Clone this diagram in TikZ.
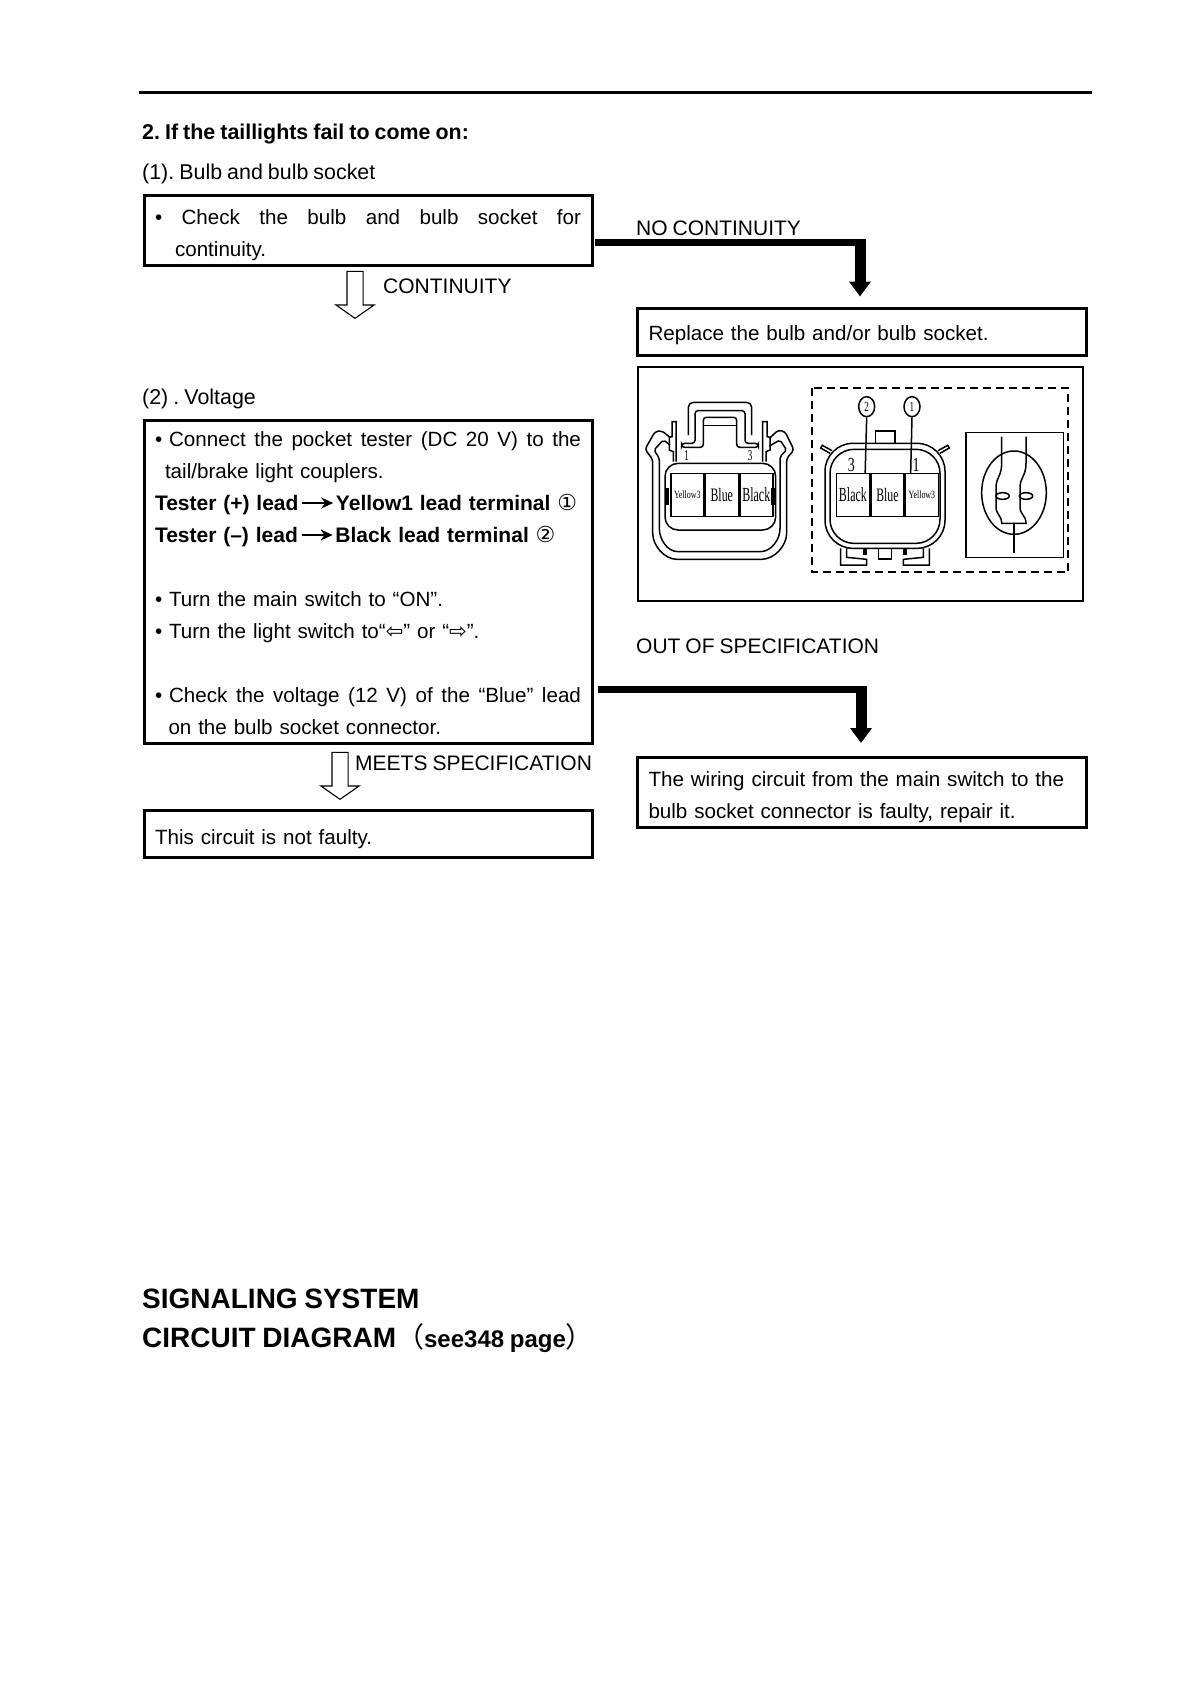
\documentclass[tikz,border=0pt]{standalone}
\usepackage{fontspec}
\usepackage{graphicx}
\setmainfont[WordSpace=0.85]{Liberation Sans}
\newfontfamily\symfont{DejaVu Sans}
\newfontfamily\cjkfont{Noto Sans CJK SC}
\newfontfamily\pinfont{Liberation Serif}
\usetikzlibrary{arrows.meta,positioning,shapes.geometric,shapes.arrows,calc}
\frenchspacing
\newcommand{\fullline}[1]{\leavevmode\hbox to 426pt{#1}}
\newcommand{\leadarrow}{\kern3pt\tikz[baseline=-7pt]\draw[line width=1.5pt,-{Stealth[length=12pt,width=11pt]}] (0pt,0pt) -- (31pt,0pt);\kern2pt}
\newcommand{\leadline}[1]{\leavevmode\hbox{\fontsize{21}{32}\selectfont\bfseries #1}}
\newcommand{\circnum}[1]{{\mdseries\fontsize{22}{22}\symfont #1}}
\newcommand{\lampsign}[1]{{\fontsize{21}{21}\symfont #1}}
\newcommand{\pinlabel}[3]{\scalebox{#1}[1]{\fontsize{#2}{#2}\pinfont #3}}

\begin{document}
\begin{tikzpicture}[
    x=1pt, y=-1pt,
    >=Stealth,
    every node/.style={font=\fontsize{21}{32}\selectfont},
    box/.style={draw, line width=3pt, inner sep=0pt, minimum width=448pt,
                font=\fontsize{20.6}{32}\selectfont,
                text width=426pt, align=left, text height=19pt},
    plain/.style={anchor=base west, inner sep=0pt},
    title/.style={plain, font=\fontsize{21.4}{32}\selectfont},
    hollowarrow/.style={draw, line width=1.1pt, single arrow, shape border rotate=270,
                anchor=tip, inner sep=7.5pt, minimum height=47pt,
                single arrow head extend=11pt, single arrow tip angle=110},
    flowbar/.style={line width=7pt},
    flowdown/.style={line width=11pt, -{Triangle[width=21pt, length=15pt]}},
    pinline/.style={line width=1.5pt},
    pincell/.style={draw, line width=1.5pt, inner sep=0pt, minimum width=33pt, minimum height=43pt},
    pinnum/.style={draw, line width=1.5pt, ellipse, inner sep=0pt, minimum width=16pt, minimum height=20pt},
  ]
  \useasboundingbox (0,0) rectangle (1190,1684);

  % Top rule and headings
  \coordinate (ruleleft) at (139,92);
  \coordinate (ruleright) at (1092,92);
  \draw[line width=3pt] (ruleleft) -- (ruleright);
  \node[title, font=\fontsize{21.4}{32}\selectfont\bfseries] at (142,139) (heading) {2. If the taillights fail to come on:};
  \node[title] at (142,179) (bulbtitle) {(1). Bulb and bulb socket};
  \node[title] at (142,404) (volttitle) {(2) . Voltage};

  % Left column
  \node[box, minimum height=70pt, text height=21pt, text depth=34pt] at (368,230.5) (bulbcheck)
    {\fullline{• \hfill Check \hfill the \hfill bulb \hfill and \hfill bulb \hfill socket \hfill for}\\
     \hspace*{20pt}continuity.};
  \node[box, minimum height=323pt, text depth=290pt] at (368,581.5) (voltcheck)
    {\fullline{• Connect \hfill the \hfill pocket \hfill tester \hfill (DC \hfill 20 \hfill V) \hfill to \hfill the}\\
     \hspace*{10pt}tail/brake light couplers.\\
     \leadline{Tester (+) lead\leadarrow Yellow1 lead terminal \circnum{①}}\\
     \leadline{Tester (–) lead\leadarrow Black lead terminal \circnum{②}}\\[32pt]
     • Turn the main switch to “ON”.\\
     • Turn the light switch to“\lampsign{⇦}” or “\lampsign{⇨}”.\\[32pt]
     \fullline{• Check \hfill the \hfill voltage \hfill (12 \hfill V) \hfill of \hfill the \hfill “Blue” \hfill lead}\\
     \hspace*{13.5pt}on the bulb socket connector.};
  \node[box, minimum height=47pt, text height=23pt, text depth=2pt] at (368,834) (notfaulty) {This circuit is not faulty.};

  % Right column
  \node[box, minimum width=449pt, minimum height=47pt, text depth=2pt] at (861.5,331.5) (replace) {Replace the bulb and/or bulb socket.};
  \node[box, minimum width=449pt, minimum height=70pt, text height=21pt, text depth=34pt] at (861.5,792.5) (repair)
    {The wiring circuit from the main switch to the\\
     bulb socket connector is faulty, repair it.};

  % Labels on the arrows
  \node[plain] at (636,235) (nocont) {NO CONTINUITY};
  \node[plain] at (383,293) (cont) {CONTINUITY};
  \node[plain] at (636,653) (outspec) {OUT OF SPECIFICATION};
  \node[plain] at (355,770) (meets) {MEETS SPECIFICATION};

  % Arrows
  \node[hollowarrow] at (355,319) (contarrow) {};
  \node[hollowarrow] at (340,800) (meetsarrow) {};
  \coordinate (nocontcorner) at (860,242.5);
  \coordinate (outcorner) at (861,689.5);
  \draw[flowbar] ([yshift=-12pt]bulbcheck.east) ++(1pt,0) -- (nocontcorner);
  \draw[flowdown] ([yshift=3.5pt]nocontcorner) -- ([xshift=-1.5pt,yshift=10pt]replace.north);
  \draw[flowbar] (voltcheck.north east |- outcorner) ++(4pt,0) -- (outcorner);
  \draw[flowdown] ([yshift=3.5pt]outcorner) -- ([xshift=-0.5pt,yshift=13pt]repair.north);

  % Bottom titles
  \node[plain, font=\fontsize{28}{34}\selectfont\bfseries] at (142,1308) (sigtitle) {SIGNALING SYSTEM};
  \node[plain, font=\fontsize{28}{34}\selectfont\bfseries] at (142,1347) (circtitle)
    {CIRCUIT DIAGRAM{\mdseries\cjkfont （}{\fontsize{24}{34}\selectfont see348 page}{\mdseries\cjkfont ）}};

  % Connector picture, in units of a third of a pixel
  \begin{scope}[x=0.33333pt, y=-0.33333pt, xshift=630pt, yshift=-360pt]
    \node[draw, line width=2pt, inner sep=0pt, minimum width=445pt, minimum height=234pt] at (691,373) (pictureframe) {};
    \draw[line width=2pt, dash pattern=on 8pt off 5pt] (545,85) rectangle (1315,637);

    % Left coupler
    \draw[pinline, rounded corners=3pt] (120,232) -- (95,212) -- (75,215) -- (45,268) -- (68,298)
      -- (68,510) to[out=270, in=180] (150,598) -- (385,598) to[out=0, in=270] (470,510)
      -- (470,295) -- (492,270) -- (465,215) -- (445,210) -- (418,235);
    \draw[pinline, rounded corners=2pt] (120,255) -- (100,240) -- (72,270) -- (88,295)
      -- (88,500) to[out=270, in=180] (150,575) -- (385,575) to[out=0, in=270] (450,500)
      -- (450,290) -- (470,270) -- (450,240) -- (418,258);
    \draw[pinline, rounded corners=13pt] (105,310) rectangle (437,510);
    \draw[pinline, rounded corners=5pt] (175,225) -- (175,127) -- (365,127) -- (365,225);
    \draw[pinline, rounded corners=3pt] (155,262) -- (155,250) -- (195,250) -- (195,152)
      -- (345,152) -- (345,250) -- (385,250) -- (385,262) -- (320,262) -- (320,172) -- (220,172) -- (220,262) -- cycle;
    \draw[pinline] (220,240) -- (220,197) -- (320,197) -- (320,240);
    \draw[pinline] (138,305) -- (138,185) -- (126,185) -- (126,230) -- (118,232) -- (118,270) -- (130,275) -- (130,305);
    \draw[pinline] (398,305) -- (398,185) -- (411,185) -- (411,230) -- (420,232) -- (420,270) -- (408,275) -- (408,305);
    \fill (104,385) rectangle (118,435);
    \fill (424,385) rectangle (436,435);
    \node[pincell, anchor=south west] at (120,472) (leftyellow) {\pinlabel{.72}{11}{Yellow3}};
    \node[pincell, right=0pt of leftyellow] (leftblue) {\pinlabel{.62}{19}{Blue}};
    \node[pincell, right=0pt of leftblue] (leftblack) {\pinlabel{.6}{20}{Black}};
    \node[inner sep=0pt] at (170,288) (leftone) {\pinlabel{.6}{15}{1}};
    \node[inner sep=0pt] at (360,287) (leftthree) {\pinlabel{.6}{15}{3}};

    % Right coupler
    \draw[pinline, rounded corners=28pt] (585,250) rectangle (945,565);
    \draw[pinline, rounded corners=24pt] (600,268) rectangle (930,550);
    \draw[pinline] (737,250) -- (737,213) -- (795,213) -- (795,250);
    \draw[pinline] (600,280) -- (572,264) -- (577,256) -- (606,272);
    \draw[pinline] (930,280) -- (958,264) -- (953,256) -- (924,272);
    \draw[pinline] (650,565) -- (650,592) -- (710,598) -- (710,615) -- (632,615) -- (632,565);
    \draw[pinline] (745,565) -- (745,597) -- (785,597) -- (785,565);
    \draw[pinline] (880,565) -- (880,592) -- (820,598) -- (820,615) -- (898,615) -- (898,565);
    \fill (700,568) rectangle (710,585);
    \fill (820,568) rectangle (830,585);
    \node[pincell, anchor=south west] at (617,472) (rightblack) {\pinlabel{.6}{20}{Black}};
    \node[pincell, right=0pt of rightblack] (rightblue) {\pinlabel{.62}{19}{Blue}};
    \node[pincell, right=0pt of rightblue] (rightyellow) {\pinlabel{.72}{11}{Yellow3}};
    \node[inner sep=0pt] at (664,315) (rightthree) {\pinlabel{.7}{20}{3}};
    \node[inner sep=0pt] at (858,315) (rightone) {\pinlabel{.7}{20}{1}};

    % Numbered leads
    \node[pinnum] at (710,140) (pintwo) {\pinlabel{.65}{14}{2}};
    \node[pinnum] at (846,140) (pinone) {\pinlabel{.65}{14}{1}};
    \draw[pinline] (pintwo.south) -- ([xshift=-5pt]rightblack.north east);
    \draw[pinline] (pinone.south) -- ([xshift=6pt]rightyellow.north west);

    % Bulb symbol
    \draw[pinline] (1008,217) rectangle (1300,592);
    \draw[pinline] (1152,398) ellipse [x radius=97, y radius=125];
    \draw[pinline] (1115,230) -- (1115,310) .. controls (1115,350) and (1098,350) .. (1098,385)
      -- (1098,440) .. controls (1098,465) and (1115,465) .. (1115,490) -- (1188,490)
      .. controls (1188,465) and (1170,465) .. (1170,440) -- (1170,385)
      .. controls (1170,350) and (1188,350) .. (1188,310) -- (1188,230);
    \draw[pinline] (1152,488) -- (1152,578);
    \draw[pinline] (1118,408) ellipse [x radius=20, y radius=10];
    \draw[pinline] (1188,408) ellipse [x radius=20, y radius=10];
  \end{scope}
\end{tikzpicture}
\end{document}
